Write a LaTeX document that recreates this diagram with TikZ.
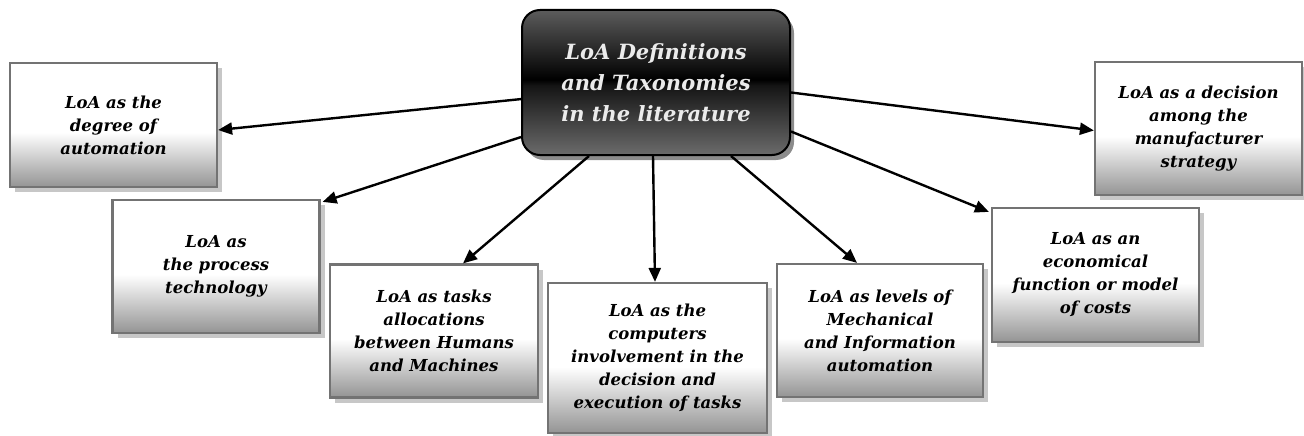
\documentclass[tikz,border=0pt]{standalone}
\usepackage{fontspec}
\setmainfont{DejaVu Serif}
\usetikzlibrary{arrows.meta,shadows}

%% fades for the boxes
\pgfdeclareverticalshading{boxfade}{100bp}{color(0bp)=(black!42); color(25bp)=(black!42); color(47bp)=(white); color(100bp)=(white)}
\pgfdeclareverticalshading{hubfade}{100bp}{color(0bp)=(black!58); color(25bp)=(black!58); color(49bp)=(black!92); color(51bp)=(black); color(75bp)=(black!64); color(100bp)=(black!64)}

\begin{document}
\begin{tikzpicture}[x=1pt,y=-1pt,
  topic/.style={draw=black, line width=2pt, rounded corners=18pt, shade, shading=hubfade,
    minimum width=268pt, minimum height=145pt, align=center, text=white!92!black,
    font=\fontsize{21}{31}\selectfont\bfseries\itshape,
    drop shadow={shadow xshift=4pt, shadow yshift=-5pt, fill=black!45, opacity=1}},
  defbox/.style={draw=black!55, line width=2.2pt, shade, shading=boxfade,
    minimum width=207pt, minimum height=133pt, inner sep=0pt, align=center,
    font=\fontsize{16.5}{23}\selectfont\bfseries\itshape,
    drop shadow={shadow xshift=5pt, shadow yshift=-5pt, fill=black!22, opacity=1}},
  link/.style={line width=2.4pt, -{Triangle[length=14pt,width=12pt]}}]

\useasboundingbox (0,0) rectangle (1304,436);

%% main topic
\node[topic] (hub) at (656,82.5) {LoA Definitions\\and Taxonomies\\in the literature};

%% definitions
\node[defbox, minimum height=124pt] (degree) at (113.5,125) {LoA as the\\degree of\\automation};
\node[defbox] (process) at (216,266.5) {LoA as\\the process\\technology};
\node[defbox, minimum width=208pt] (tasks) at (434,331) {LoA as tasks\\allocations\\between Humans\\and Machines};
\node[defbox, minimum width=219pt, minimum height=150pt] (computers) at (657.5,358) {LoA as the\\computers\\involvement in the\\decision and\\execution of tasks};
\node[defbox, minimum width=206pt] (levels) at (880,330.5) {LoA as levels of\\Mechanical\\and Information\\automation};
\node[defbox, minimum height=134pt] (economical) at (1095.5,275) {LoA as an\\economical\\function or model\\of costs};
\node[defbox] (decision) at (1198.5,128.5) {LoA as a decision\\among the\\manufacturer\\strategy};

%% arrows
\draw[link] (hub.187) -- ([yshift=-5pt]degree.east);
\draw[link] (hub.202) -- ([xshift=2pt,yshift=-3pt]process.north east);
\draw[link] ([xshift=-67pt]hub.south) -- ([xshift=29pt]tasks.north);
\draw[link] ([xshift=-3pt]hub.south) -- ([xshift=-2.5pt]computers.north);
\draw[link] ([xshift=75pt]hub.south) -- ([xshift=-23pt]levels.north);
\draw[link] ([yshift=-49pt]hub.east) -- ([xshift=-2pt,yshift=-5pt]economical.north west);
\draw[link] ([yshift=-10pt]hub.east) -- ([yshift=-2pt]decision.west);
\end{tikzpicture}
\end{document}
